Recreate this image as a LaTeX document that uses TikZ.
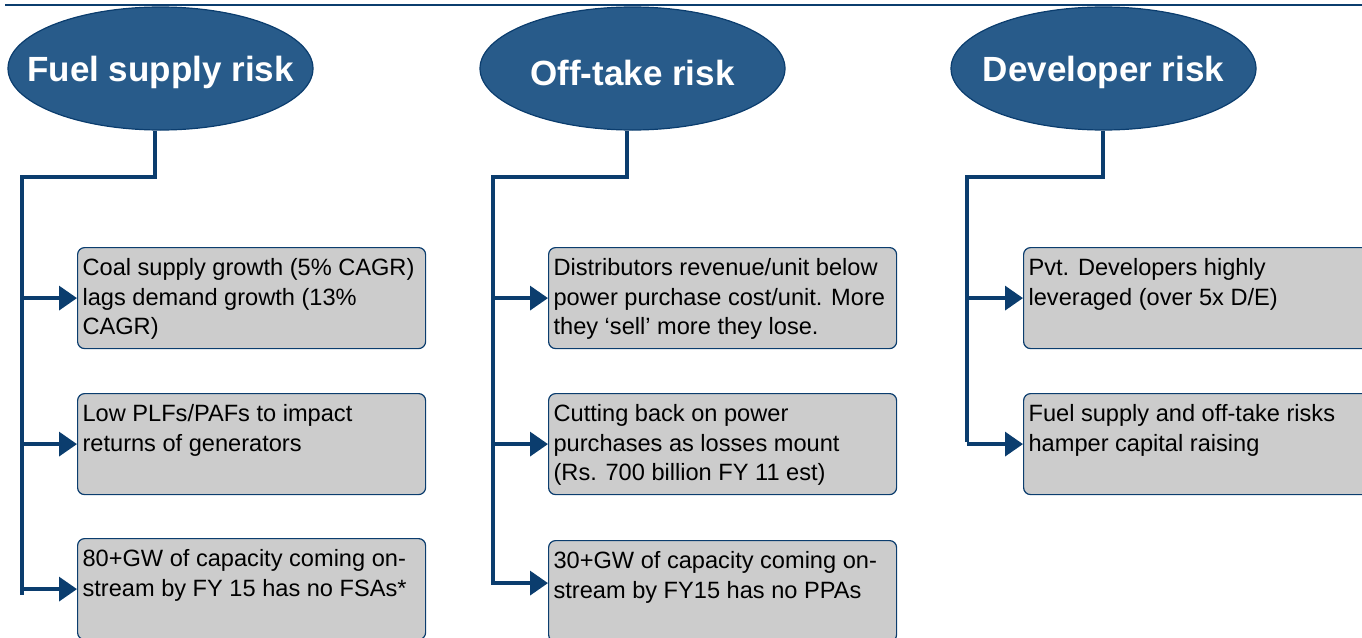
\documentclass[tikz,border=0pt]{standalone}
\usepackage{fontspec}
\setmainfont{Liberation Sans}
\usetikzlibrary{shapes.geometric,arrows.meta}
\definecolor{navy}{HTML}{0B3D6E}
\definecolor{riskblue}{HTML}{285B8A}
\definecolor{boxgray}{HTML}{CCCCCC}
\tikzset{
  risk/.style={ellipse, fill=riskblue, draw=navy, line width=1.2pt, inner sep=0pt,
    minimum width=305pt, minimum height=123pt},
  risktext/.style={text=white, inner sep=0pt, yshift=-4pt,
    font=\fontsize{35}{38}\selectfont\bfseries},
  item/.style={draw=navy, fill=boxgray, line width=1.2pt, rounded corners=7pt,
    anchor=north west, inner xsep=5pt, inner ysep=11pt,
    font=\fontsize{23.6}{29.5}\selectfont},
  link/.style={navy, line width=3.5pt},
  arr/.style={link, -{Triangle[length=18pt,width=24pt]}},
}
\newcommand{\itemtext}[1]{\parbox[t][79pt][t]{338pt}{\raggedright #1}}

\begin{document}
\begin{tikzpicture}[x=1pt, y=-1pt]
                \useasboundingbox (0,0) rectangle (1362,637);
                \clip (0,0) rectangle (1362,637);
                \draw[navy, line width=2pt] (5,5) -- (1362,5);

                % the three risk headings
                \node[risk, label={[risktext]center:Fuel supply risk}] (fuel) at (160.5,68.5) {};
                \node[risk, label={[risktext]center:Off-take risk}] (offtake) at (632.5,68.5) {};
                \node[risk, label={[risktext]center:Developer risk}] (developer) at (1103.5,68.5) {};

                % fuel supply column
                \node[item] (coal) at (77,247) {\itemtext{Coal supply growth (5\% CAGR)\\lags demand growth (13\%\\CAGR)}};
                \node[item] (plf) at (77,393) {\itemtext{Low PLFs/PAFs to impact\\returns of generators}};
                \node[item] (fsa) at (77,538) {\itemtext{80+GW of capacity coming on-\\stream by FY 15 has no FSAs*}};
                \coordinate (fuelbus) at (22,177);
                \draw[link] ([xshift=-5.5pt]fuel.south) |- (fuelbus) -- ++(0,418);
                \draw[arr] (fuelbus |- coal.west) -- (coal.west);
                \draw[arr] (fuelbus |- plf.west) -- (plf.west);
                \draw[arr] (fuelbus |- fsa.west) -- (fsa.west);

                % off-take column
                \node[item] (revenue) at (548,247) {\itemtext{Distributors revenue/unit below\\power purchase cost/unit. More\\they ‘sell’ more they lose.}};
                \node[item] (cutback) at (548,393) {\itemtext{Cutting back on power\\purchases as losses mount\\(Rs. 700 billion FY 11 est)}};
                \node[item] (ppa) at (548,540) {\itemtext{30+GW of capacity coming on-\\stream by FY15 has no PPAs}};
                \coordinate (offbus) at (493,177);
                \draw[link] ([xshift=-5.5pt]offtake.south) |- (offbus) -- ++(0,408);
                \draw[arr] (offbus |- revenue.west) -- (revenue.west);
                \draw[arr] (offbus |- cutback.west) -- (cutback.west);
                \draw[arr] (offbus |- ppa.west) ++(0,-8) -- ([yshift=8pt]ppa.west);

                % developer column
                \node[item] (leverage) at (1023,247) {\itemtext{Pvt. Developers highly\\leveraged (over 5x D/E)}};
                \node[item] (capital) at (1023,393) {\itemtext{Fuel supply and off-take risks\\hamper capital raising}};
                \coordinate (devbus) at (967,177);
                \draw[link] ([xshift=-0.5pt]developer.south) |- (devbus) -- ++(0,265);
                \draw[arr] (devbus |- leverage.west) -- (leverage.west);
                \draw[arr] (devbus |- capital.west) -- (capital.west);
            \end{tikzpicture}
\end{document}
